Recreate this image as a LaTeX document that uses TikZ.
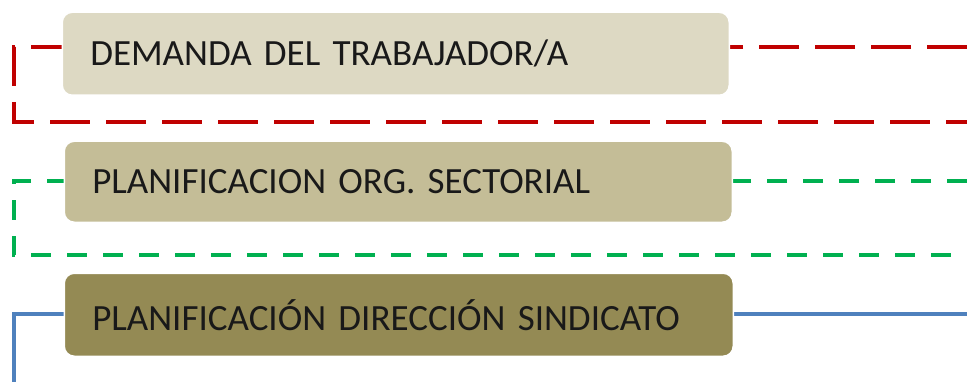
\documentclass[tikz,border=0pt]{standalone}
\usepackage{fontspec}
\setmainfont{Carlito}
\newcommand{\lboxfont}{\fontsize{37}{40}\selectfont\fontdimen2\font=0.2em\relax\fontdimen3\font=0pt\relax}
\definecolor{boxA}{HTML}{DDD9C3}
\definecolor{boxB}{HTML}{C4BD97}
\definecolor{boxC}{HTML}{948A54}
\definecolor{lineR}{HTML}{C00000}
\definecolor{lineG}{HTML}{00B050}
\definecolor{lineB}{HTML}{4F81BD}
\begin{document}
\begin{tikzpicture}[x=1pt,y=1pt,
  lbox/.style={draw=white, line width=1.5pt, rounded corners=10pt, anchor=north west,
    minimum height=83pt, text width=611pt, inner xsep=28pt, inner ysep=0pt,
    align=left, font=\lboxfont, text=black!90},
  frame/.style={line width=4.5pt, line join=miter},
  reddash/.style={frame, lineR, dash pattern=on 40pt off 16pt},
  greendash/.style={frame, lineG, dash pattern=on 20pt off 16pt},
  blueline/.style={frame, lineB}]
\useasboundingbox[fill=white] (0,0) rectangle (967,381);
% red group
\coordinate (r1) at (967,334);
\coordinate (r2) at (14,334);
\coordinate (r3) at (14,259);
\coordinate (r4) at (967,259);
\draw[reddash] (r1) -- (r2) -- (r3) -- (r4);
\node[lbox, fill=boxA] (a) at (61.5,369.5) {DEMANDA DEL TRABAJADOR/A};
% green group
\coordinate (g1) at (967,200);
\coordinate (g2) at (14,200);
\coordinate (g3) at (14,126);
\coordinate (g4) at (967,126);
\draw[greendash] (g1) -- (g2) -- (g3) -- (g4);
\node[lbox, fill=boxB, minimum height=81pt, text width=612pt] (b) at (63.5,240.5) {PLANIFICACION ORG. SECTORIAL};
% blue group
\coordinate (b1) at (967,67);
\coordinate (b2) at (14,67);
\coordinate (b3) at (14,-5);
\draw[blueline] (b1) -- (b2) -- (b3);
\node[lbox, fill=boxC, text width=613pt] (c) at (63.5,108.5) {PLANIFICACIÓN DIRECCIÓN SINDICATO};
\end{tikzpicture}
\end{document}
